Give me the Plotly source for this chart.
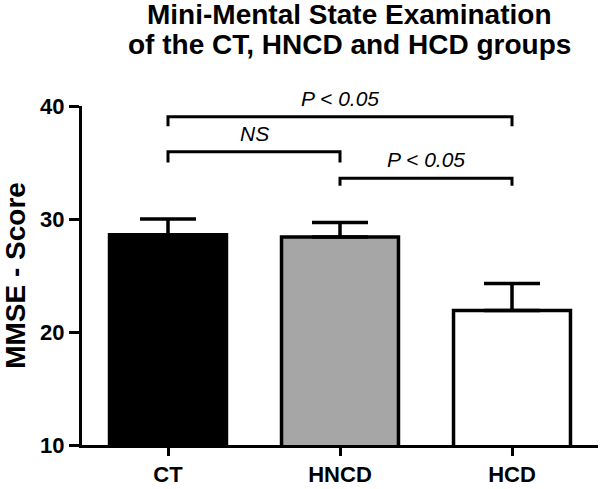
import plotly.graph_objects as go

categories = ["CT", "HNCD", "HCD"]
means = [28.6, 28.4, 21.9]
sem = [1.4, 1.3, 2.4]
bar_colors = ["#000000", "#a6a6a6", "#ffffff"]

# significance brackets: (start index, end index, bracket height, tick drop, label)
comp_start = [0, 0, 1]
comp_end = [2, 1, 2]
comp_y = [39.05, 35.95, 33.6]
comp_drop = [0.85, 0.95, 0.65]
comp_labels = ["P < 0.05", "NS", "P < 0.05"]

title_lines = ["Mini-Mental State Examination", "of the CT, HNCD and HCD groups"]

FONT = "Liberation Sans, Arial, Helvetica, sans-serif"

fig = go.Figure()
fig.add_trace(go.Bar(
    x=[0, 1, 2], y=means, base=0, width=0.68,
    marker=dict(color=bar_colors, line=dict(color="black", width=3.5)),
    error_y=dict(type="data", array=sem, arrayminus=[0, 0, 0], symmetric=False,
                 color="black", thickness=3.5, width=28),
    showlegend=False,
))

for s, e, y, d, lab in zip(comp_start, comp_end, comp_y, comp_drop, comp_labels):
    fig.add_trace(go.Scatter(
        x=[s, s, e, e], y=[y - d, y, y, y - d], mode="lines",
        line=dict(color="black", width=3), showlegend=False, cliponaxis=False,
    ))
    fig.add_annotation(x=(s + e) / 2, y=y, text=lab, showarrow=False,
                       yanchor="bottom", yshift=5,
                       font=dict(family=FONT, size=21, style="italic", color="black"))

for i, line in enumerate(title_lines):
    fig.add_annotation(xref="paper", yref="paper", x=0.519, y=1, xanchor="center",
                       yanchor="middle", yshift=92 - 30 * i, showarrow=False,
                       text="<b>%s</b>" % line,
                       font=dict(family=FONT, size=28, color="black"))

fig.update_layout(
    width=600, height=489,
    paper_bgcolor="white", plot_bgcolor="white",
    margin=dict(l=82, r=2, t=106, b=41),
    font=dict(family=FONT, color="black"),
)
fig.update_xaxes(
    range=[-0.5, 2.5], tickvals=[0, 1, 2], ticktext=["<b>%s</b>" % c for c in categories],
    showline=True, linecolor="black", linewidth=3, ticks="outside", ticklen=8,
    tickwidth=3, tickcolor="black", showgrid=False, zeroline=False,
    tickfont=dict(family=FONT, size=22, color="black"),
)
fig.update_yaxes(
    range=[10, 40], tickvals=[10, 20, 30, 40], ticktext=["<b>10</b>", "<b>20</b>", "<b>30</b>", "<b>40</b>"],
    showline=True, linecolor="black", linewidth=3, ticks="outside", ticklen=10,
    tickwidth=3, tickcolor="black", showgrid=False, zeroline=False,
    tickfont=dict(family=FONT, size=22, color="black"),
    title=dict(text="<b>MMSE - Score</b>", font=dict(family=FONT, size=28, color="black"), standoff=15),
)

fig.write_html("out.html", config={"displayModeBar": False},
               post_script="document.body.style.margin='0';document.body.style.overflow='hidden';")
